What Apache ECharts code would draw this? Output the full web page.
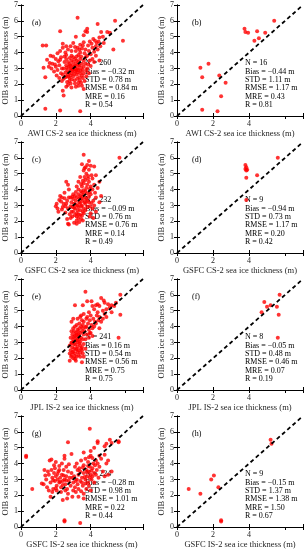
<!DOCTYPE html>
<html><head><meta charset="utf-8">
<script src="https://cdn.jsdelivr.net/npm/echarts@6/dist/echarts.min.js"></script>
<style>html,body{margin:0;padding:0;background:#fff}#c{width:305px;height:550px}</style>
</head><body><div id="c"></div>
<script>
const panelLabels = ['(a)','(b)','(c)','(d)','(e)','(f)','(g)','(h)'];
const xNames = ['AWI CS-2 sea ice thickness (m)','AWI CS-2 sea ice thickness (m)','GSFC CS-2 sea ice thickness (m)','GSFC CS-2 sea ice thickness (m)','JPL IS-2 sea ice thickness (m)','JPL IS-2 sea ice thickness (m)','GSFC IS-2 sea ice thickness (m)','GSFC IS-2 sea ice thickness (m)'];
const yName = 'OIB sea ice thickness (m)';
const xTicks = [0,2,4,6];
const yTicks = [0,1,2,3,4,5,6,7];
const statN = [260,16,232,9,241,8,224,9];
const statBias = ['\u22120.32','\u22120.44','\u22120.09','\u22120.94','0.16','\u22120.05','\u22120.28','\u22120.15'];
const statSTD = ['0.78','1.11','0.76','0.73','0.54','0.48','0.98','1.37'];
const statRMSE = ['0.84','1.17','0.76','1.17','0.56','0.46','1.01','1.38'];
const statMRE = ['0.16','0.43','0.14','0.20','0.75','0.07','0.22','1.50'];
const statR = ['0.54','0.81','0.49','0.42','0.75','0.19','0.44','0.67'];

const dataA = [[2.6,2.5],[2.7,2.6],[2.8,2.4],[2.9,2.7],[3.0,2.5],[3.1,2.8],[3.2,2.6],[3.3,2.9],[3.4,2.7],[2.65,2.9],[2.75,3.1],[2.85,3.0],[2.95,3.2],[3.05,3.1],[3.15,3.3],[3.25,3.0],[3.35,3.2],[2.7,3.4],[2.8,3.3],[2.9,3.5],[3.0,3.4],[3.1,3.6],[3.2,3.5],[3.3,3.4],[3.4,3.6],[2.6,3.2],[2.75,2.75],[2.85,2.55],[2.95,2.85],[3.05,2.65],[3.15,2.95],[3.25,2.75],[3.35,2.45],[3.45,3.05],[2.55,2.75],[2.62,3.05],[2.78,2.2],[2.92,2.3],[3.08,2.25],[3.22,2.35],[3.38,2.25],[3.5,2.55],[3.55,2.9],[3.5,3.3],[3.6,3.5],[2.5,3.4],[2.45,3.0],[2.4,2.6],[2.98,3.0],[3.12,3.15],[2.88,2.9],[3.02,2.95],[3.18,2.85],[2.82,3.18],[3.28,3.22],[2.72,2.48],[3.42,2.85],[3.0,3.7],[2.9,3.8],[3.2,3.75],[3.3,3.85],[2.8,3.65],[3.45,3.75],[2.6,3.6],[3.1,2.05],[2.85,2.05],[3.3,2.1],[2.65,2.15],[3.55,2.4],[3.6,2.7],
[1.6,3.1],[1.7,3.8],[1.8,3.3],[1.9,2.8],[2.0,3.6],[2.1,2.9],[2.2,3.2],[2.3,3.7],[2.2,2.4],[2.35,2.2],[2.1,3.95],[2.25,4.1],[2.4,4.3],[2.55,4.0],[2.7,4.2],[2.85,4.4],[3.0,4.6],[3.15,4.1],[3.25,4.3],[3.4,4.0],[3.5,4.25],[3.65,3.95],[3.7,4.2],[3.8,3.8],[3.9,4.1],[4.0,3.9],[4.1,4.3],[4.2,4.05],[4.3,4.4],[4.35,4.6],[4.45,4.7],[4.5,4.95],[4.25,4.75],[4.05,4.55],[3.85,4.45],[3.6,4.65],[3.4,4.5],[3.7,3.3],[3.8,3.0],[3.9,2.7],[3.75,2.5],[3.65,2.2],[3.5,1.9],[2.6,1.85],[2.9,1.8],[3.15,1.85],[2.45,2.35],[2.3,2.7],[2.15,3.45],[1.95,3.25],[1.85,3.75],[2.5,3.75],[2.05,2.55],[3.95,3.5],[4.1,3.6],[4.2,3.4],[3.85,3.25],[4.0,3.15],[4.3,3.8],[4.4,4.2],[1.5,3.55],[1.65,3.35],[2.4,4.55],[2.9,4.1],[3.1,4.35],[3.55,4.45],[3.95,4.7],[4.15,4.85],[2.0,3.1],[1.75,3.0],[2.25,3.55],[3.7,3.7],[3.6,3.1],[3.75,2.85],[3.45,2.1],[2.7,1.95],[2.55,2.45],[2.35,3.0],[2.6,4.4],[3.35,4.2],
[1.25,4.45],[1.45,4.45],[1.3,3.05],[1.4,2.45],[1.4,0.45],[2.25,0.35],[3.4,0.3],[2.45,1.3],[2.25,5.35],[3.25,6.2],[4.4,5.8],[5.4,6.0],[5.85,4.75],[5.3,4.2],[4.95,5.3],[5.1,5.25],[3.7,5.35],[3.8,5.3],[3.8,5.5],[4.6,5.3],[4.7,5.0],[4.55,4.4],[3.6,5.1],[3.15,5.0],[2.6,3.85],[4.5,3.5],[4.75,4.6],[2.4,1.6],[3.6,1.7],[3.3,1.9]];
const dataB = [[5.4,6.0],[3.75,5.5],[3.8,5.3],[3.95,5.25],[4.45,5.35],[4.3,4.75],[4.55,4.9],[4.9,5.25],[1.3,3.05],[1.75,3.3],[1.4,2.45],[2.35,2.55],[2.7,2.1],[2.45,1.25],[1.4,0.4],[2.25,0.3]];
const dataC = [[3.0,2.6],[3.1,2.8],[3.2,2.5],[3.3,2.9],[3.4,2.7],[3.5,3.0],[3.6,2.8],[3.7,3.1],[3.8,2.9],[3.05,3.1],[3.15,3.3],[3.25,3.0],[3.35,3.2],[3.45,3.4],[3.55,3.3],[3.65,3.5],[3.75,3.4],[3.0,3.4],[3.1,3.6],[3.2,3.5],[3.3,3.7],[3.4,3.6],[3.5,3.8],[3.6,3.7],[3.7,3.9],[3.2,2.3],[3.3,2.2],[3.4,2.4],[3.5,2.35],[3.6,2.5],[3.1,2.4],[3.25,2.7],[3.45,2.95],[3.55,2.6],[3.65,3.2],[3.35,3.45],[3.15,3.05],[3.05,2.85],[3.5,3.55],[3.4,3.15],[3.7,2.7],[3.8,3.3],[3.3,2.45],[3.45,2.15],[3.2,2.05],[3.35,1.95],[3.55,2.05],[3.6,3.95],[3.8,3.75],[3.9,3.55],[3.9,3.2],[3.95,2.95],[2.95,2.9],[2.9,3.2],[2.85,3.5],[3.0,3.7],[3.15,3.85],[3.3,4.0],[3.45,3.9],[3.75,4.1],
[3.5,4.2],[3.6,4.4],[3.7,4.6],[3.8,4.3],[3.9,4.5],[4.0,4.2],[4.1,4.0],[4.2,4.3],[3.65,4.8],[3.75,5.0],[3.85,4.85],[3.6,5.2],[3.7,5.4],[3.8,5.55],[3.9,5.25],[4.0,5.5],[4.1,4.7],[4.3,4.9],[3.55,4.55],[3.45,4.35],[3.95,4.05],[4.25,3.8],[4.4,4.1],[4.5,4.5],[4.6,3.6],[4.3,3.5],[4.15,3.3],[4.0,3.7],[3.9,5.8],[3.6,6.2],[3.5,5.6],[3.65,5.35],[3.4,4.8],[3.3,4.5],[3.2,4.2],[4.2,5.45],[5.65,6.0],[3.85,4.7],[4.05,4.9],[3.95,3.85],
[2.0,2.95],[2.05,3.1],[2.15,2.6],[2.25,3.6],[2.3,3.25],[2.4,2.9],[2.5,3.45],[2.55,2.55],[2.6,3.1],[2.7,2.8],[2.75,3.5],[2.8,2.45],[2.65,3.3],[2.45,3.1],[2.35,2.75],[2.2,3.35],[2.1,2.8],[2.85,2.95],[2.9,2.6],[2.6,4.5],[2.7,4.3],[2.75,4.0],[2.5,3.8],[2.35,3.5],[2.7,1.85],[2.75,1.8],[2.95,2.3],[2.85,2.2],[3.05,1.9],[3.2,1.85],[2.55,2.95],[2.95,3.55],[2.65,2.15],
[4.0,2.5],[4.1,2.8],[4.2,3.0],[4.3,2.6],[4.05,3.15],[3.95,2.3],[4.15,2.2],[4.5,3.2]];
const dataD = [[3.8,5.55],[3.85,5.4],[3.8,5.3],[3.9,5.25],[3.85,5.2],[3.85,4.75],[4.45,4.9],[5.6,6.0],[3.85,3.35]];
const dataE = [[2.9,2.2],[3.0,2.4],[3.1,2.3],[3.2,2.6],[3.3,2.5],[3.4,2.8],[2.95,2.7],[3.05,2.9],[3.15,3.1],[3.25,3.0],[3.35,3.2],[3.45,3.3],[2.9,3.0],[3.0,3.2],[3.1,3.4],[3.2,3.3],[3.3,3.5],[3.4,3.6],[2.95,3.5],[3.05,3.7],[3.15,3.6],[3.25,3.8],[3.35,3.9],[3.5,3.7],[3.0,2.0],[3.1,1.95],[3.2,2.1],[3.3,2.2],[3.4,2.35],[3.5,2.5],[2.85,2.5],[2.8,2.8],[2.85,3.3],[2.9,3.7],[3.0,3.9],[3.1,4.0],[3.2,4.1],[3.35,4.2],[3.45,4.0],[3.55,3.9],[3.6,3.5],[3.55,3.2],[3.6,2.9],[3.5,2.7],[3.55,2.3],[3.4,2.1],[3.15,2.55],[3.25,2.75],[3.05,2.6],[2.95,2.4],[3.12,2.85],[3.22,3.15],[3.32,3.4],[3.02,3.35],[3.18,3.5],[3.28,3.7],[3.4,3.05],[2.92,2.95],[3.08,2.15],[3.45,2.6],[3.35,2.95],[3.0,3.05],[3.25,2.4],[2.88,2.1],[2.8,2.3],[3.15,1.85],[2.8,1.85],[3.5,1.75],[3.6,2.1],[3.7,2.6],
[3.7,3.2],[3.8,3.5],[3.9,3.8],[4.0,3.6],[3.75,4.0],[3.85,4.2],[3.95,4.4],[4.05,4.1],[4.15,4.5],[4.25,4.3],[4.35,4.7],[4.45,4.4],[3.65,3.7],[3.7,3.95],[3.8,4.6],[3.9,3.3],[4.1,3.9],[4.2,4.0],[4.3,4.2],[4.4,4.9],[4.5,4.6],[3.6,4.3],[3.5,4.4],[3.4,4.6],[3.6,4.8],[3.9,4.9],[4.0,4.7],[4.6,4.3],[4.7,4.5],[4.8,4.8],[4.5,3.9],[4.1,3.4],[3.55,4.1],[3.45,4.7],[3.75,4.5],[3.95,3.6],
[4.2,5.1],[4.3,5.35],[4.5,5.3],[4.6,5.8],[4.7,5.0],[4.8,5.5],[4.9,5.1],[5.0,5.4],[5.1,5.2],[5.2,5.35],[5.35,5.3],[4.75,5.65],[4.4,5.4],[4.1,5.3],[3.55,5.35],[3.7,6.2],[5.7,6.0],[5.7,4.75],[5.6,3.3],[3.1,5.35],[3.25,4.5],[2.9,4.3],[3.0,4.5],[5.45,5.5],[5.2,4.9],[4.9,4.6],[3.8,5.6],[4.05,5.6]];
const dataF = [[4.85,5.55],[5.0,5.25],[5.2,5.35],[5.55,5.25],[5.7,6.0],[5.65,4.75],[4.7,4.9],[5.6,3.3]];
const dataG = [[1.3,2.7],[1.45,3.0],[1.5,2.5],[1.6,3.3],[1.7,2.8],[1.75,3.6],[1.8,3.1],[1.85,2.4],[1.9,3.4],[1.95,2.9],[2.0,3.2],[2.05,2.6],[2.1,3.0],[2.15,3.5],[2.2,2.8],[2.25,3.1],[2.3,2.5],[2.35,3.3],[2.4,2.9],[2.45,3.6],[2.5,3.0],[2.55,2.7],[2.6,3.2],[2.65,2.4],[2.7,3.5],[2.75,2.9],[2.8,3.1],[1.65,4.2],[1.75,4.25],[1.9,3.9],[2.0,4.1],[2.2,3.85],[2.35,4.0],[2.5,4.3],[2.6,3.8],[2.75,3.95],[1.55,3.5],[1.35,3.6],[1.6,2.3],[1.8,2.2],[2.05,2.3],[2.3,2.2],[2.55,2.3],[2.7,2.1],[2.0,2.45],[1.95,3.7],[2.1,3.35],[2.4,2.65],[2.6,2.95],[1.85,2.95],[2.25,2.85],[2.45,3.25],[1.2,2.75],[1.7,1.9],[2.5,4.5],[2.7,5.35],[2.4,1.7],[2.65,1.8],[2.2,3.6],[1.4,3.25],
[2.85,2.6],[2.9,3.4],[3.0,2.8],[3.05,3.2],[3.1,2.5],[3.2,3.0],[3.25,2.7],[3.3,3.3],[3.4,2.9],[3.5,3.1],[3.55,2.6],[3.6,3.4],[3.7,3.0],[3.75,3.6],[3.8,3.2],[3.85,2.8],[3.9,3.5],[3.95,3.8],[4.0,3.3],[4.05,3.0],[4.1,3.7],[4.15,4.0],[4.2,3.4],[4.25,3.9],[4.3,4.2],[4.35,3.6],[4.4,4.0],[4.5,3.8],[4.6,4.3],[4.7,3.5],[3.1,3.8],[3.2,4.0],[3.35,3.7],[3.45,4.2],[3.6,3.9],[3.7,4.3],[3.85,4.1],[3.9,4.4],[4.0,4.5],[4.1,4.35],[3.0,2.3],[3.15,2.2],[3.3,2.4],[3.45,2.25],[3.6,2.1],[3.75,2.4],[3.9,2.6],[4.0,2.3],[4.2,2.8],[3.55,3.75],[3.65,3.15],[3.8,3.45],[3.95,3.1],[4.05,3.55],[3.4,3.5],[3.25,3.6],[3.15,2.9],[2.95,3.1],[3.5,2.8],[3.7,2.75],[4.3,3.3],[4.45,3.1],[4.8,3.2],[3.85,3.85],[4.1,3.2],[3.3,1.9],[3.6,1.8],[2.95,1.9],[4.8,4.55],[4.5,4.5],
[0.3,4.5],[0.3,4.42],[0.65,2.4],[2.5,0.42],[2.5,0.35],[3.4,0.25],[3.95,6.2],[4.4,5.4],[4.4,5.3],[5.1,5.5],[5.2,5.3],[5.6,5.4],[5.6,5.35],[4.8,5.1],[4.9,5.25],[4.2,5.0],[4.0,4.8],[3.6,4.7],[2.9,4.6],[5.0,4.2],[5.2,3.5],[5.0,3.3],[4.9,4.0]];
const dataH = [[0.65,2.4],[1.3,2.1],[1.9,3.0],[2.05,3.25],[2.3,2.5],[2.45,0.42],[2.45,0.35],[5.2,5.5],[5.25,5.25]];
const allData = [dataA,dataB,dataC,dataD,dataE,dataF,dataG,dataH];
const diagLine = [[0,0],[7,7]];

const FONT = '"Liberation Serif","Times New Roman",serif';
const TXT = '#262626';
const grids=[], xAxes=[], yAxes=[], series=[], graphics=[];
for (let i=0;i<8;i++){
  const c=i%2, r=Math.floor(i/2);
  const L=17+160*c, T=5+137*r, W=126, H=111;
  grids.push({left:L, top:T, width:W, height:H, containLabel:false});
  const axLine={show:true, lineStyle:{color:'#000', width:1}};
  const tick={show:true, inside:true, length:3, lineStyle:{color:'#000', width:1}};
  xAxes.push({type:'value', gridIndex:i, min:0, max:7, interval:2, position:'bottom',
    axisLine:axLine, axisTick:tick, splitLine:{show:false},
    axisLabel:{fontFamily:FONT, fontSize:8, color:TXT, margin:4, showMaxLabel:false,
      customValues: xTicks},
    name:xNames[i], nameLocation:'middle', nameGap:13,
    nameTextStyle:{fontFamily:FONT, fontSize:8.5, color:TXT}});
  xAxes.push({type:'value', gridIndex:i, min:0, max:7, interval:2, position:'top',
    axisLine:axLine, axisTick:tick, axisLabel:{show:false}, splitLine:{show:false}});
  yAxes.push({type:'value', gridIndex:i, min:0, max:7, interval:1, position:'left',
    axisLine:axLine, axisTick:tick, splitLine:{show:false},
    axisLabel:{fontFamily:FONT, fontSize:8, color:TXT, margin:3, customValues: yTicks},
    name:yName, nameLocation:'middle', nameGap:9,
    nameTextStyle:{fontFamily:FONT, fontSize:8.5, color:TXT}});
  yAxes.push({type:'value', gridIndex:i, min:0, max:7, interval:1, position:'right',
    axisLine:axLine, axisTick:tick, axisLabel:{show:false}, splitLine:{show:false}});
  series.push({type:'scatter', xAxisIndex:2*i, yAxisIndex:2*i, data:allData[i],
    symbol:'circle', symbolSize:4, itemStyle:{color:'#ff0000'}, z:3, silent:true});
  series.push({type:'line', xAxisIndex:2*i, yAxisIndex:2*i, data:diagLine,
    symbol:'none', lineStyle:{color:'#000', width:1.8, type:[4,3]}, z:4, silent:true});
  const stats = 'N = '+statN[i]+'\nBias = '+statBias[i]+' m\nSTD = '+statSTD[i]+' m\nRMSE = '+statRMSE[i]+' m\nMRE = '+statMRE[i]+'\nR = '+statR[i];
  graphics.push({type:'text', left:L+68, top:T+54, z:1,
    style:{text:stats, font:'8px '+FONT, fill:'#000', lineHeight:8.4}});
  graphics.push({type:'text', left:L+15, top:T+14, z:1,
    style:{text:panelLabels[i], font:'8px '+FONT, fill:'#000'}});
}
const chart = echarts.init(document.getElementById('c'), null, {renderer:'canvas'});
chart.setOption({animation:false, backgroundColor:'#fff', grid:grids, xAxis:xAxes, yAxis:yAxes, series:series, graphic:graphics});
</script></body></html>
